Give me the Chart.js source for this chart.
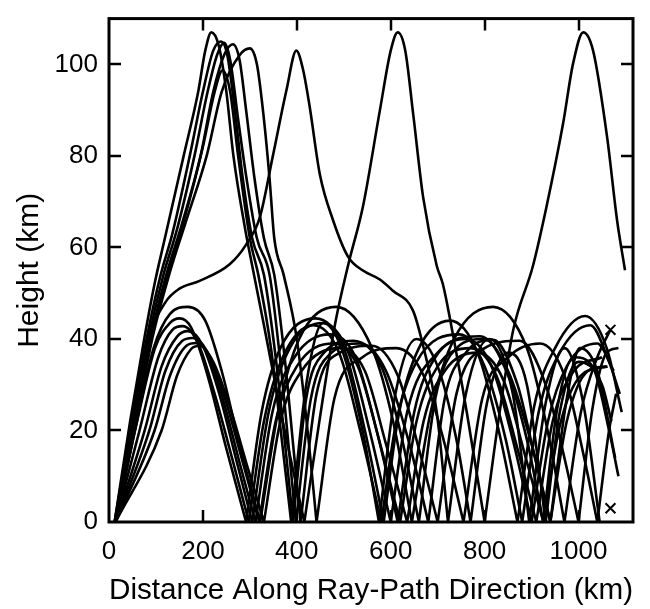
<!DOCTYPE html>
<html>
<head>
<meta charset="utf-8">
<script src="https://cdn.jsdelivr.net/npm/chart.js@4/dist/chart.umd.min.js"></script>
<style>
  html, body { margin: 0; padding: 0; background: #fff; }
  #wrap { width: 650px; height: 609px; }
</style>
</head>
<body>
<div id="wrap"><canvas id="rays" width="650" height="609"></canvas></div>
<script>
// axis ticks
const xTicks = [0, 200, 400, 600, 800, 1000];
const yTicks = [0, 20, 40, 60, 80, 100];

// ray paths as [distance km, height km]; a height of 0 inside a path is a ground bounce
const rayLong = [[12,0],[45,22],[75,40],[97,52],[119,62],[159,80],[190,94],[205,103],[218,107],[234,104],[250,94],[265,80],[290,64],[305,56],[330,43],[370,22],[416,0],[448,22],[481,43],[509,56],[541,69],[577,90],[600,103],[615,107],[631,103],[648,89],[669,71],[698,56],[711,52],[727,44],[762,24],[800,0],[832,24],[861,42],[903,56],[932,69],[967,87],[988,100],[1010,107],[1031,103],[1061,84],[1082,66],[1099,55]];
const rayFlat = [[14,0],[50,22],[85,40],[120,48],[150,51],[193,52.7],[257,56.3],[292,60.6],[321,66.5],[349,80],[378,94.4],[399,103],[413,99],[427,91],[449,76],[477,66],[509,58],[540,55],[577,53],[604,50.6],[647,46.3],[669,38.5],[698,24],[722,0],[760,28],[810,40],[860,28],[895,0],[930,26],[970,38],[1010,26],[1045,0]];
const rayH2 = [[12,0],[48,22],[80,40],[110,54],[135,63],[172,80],[200,94],[222,103],[239,105],[252,102],[268,90],[285,75],[305,62],[330,54],[355,36],[375,17],[392,0],[420,27],[458,37],[520,39.6],[580,34],[620,20],[660,0],[695,27],[740,38],[800,40],[850,32],[890,18],[925,0],[955,25],[990,36],[1030,34],[1065,20],[1085,10]];
const rayH3 = [[12,0],[52,22],[84,40],[116,54],[145,64],[182,80],[210,94],[230,102],[245,104.7],[258,101],[275,88],[293,75],[315,62],[342,54],[366,34],[384,15],[398,0],[430,27],[474,37],[535,39],[590,33],[640,17],[680,0],[715,27],[760,37],[818,39.8],[870,30],[905,15],[940,0],[975,27],[1003,38],[1040,33],[1078,14]];
const rayH4 = [[13,0],[55,22],[88,40],[122,54],[155,65],[195,80],[222,94],[245,102],[264,104.4],[278,101],[292,90],[310,75],[330,62],[352,54],[374,36],[393,16],[408,0],[442,28],[492,37],[560,38.5],[615,32],[660,16],[700,0],[740,28],[800,38],[875,39.6],[930,30],[970,14],[1000,0],[1030,25],[1060,37],[1085,38]];
const rayH5 = [[14,0],[58,22],[92,40],[128,54],[165,66],[208,80],[240,94],[278,102],[300,103.5],[315,100],[330,88],[342,75],[352,62],[372,54],[400,40],[425,18],[442,0],[480,27],[540,36],[612,38],[670,32],[715,17],[755,0],[795,27],[850,36],[918,39],[970,32],[1010,15],[1040,0],[1065,20],[1080,28]];
const rayH6 = [[13,0],[56,22],[90,40],[125,54],[160,66],[200,82],[225,94],[242,98.7],[258,94],[275,80],[300,62],[318,54],[345,38],[368,18],[388,0],[420,30],[456,43.5],[495,38],[540,20],[575,0],[610,28],[655,40],[700,34],[740,18],[770,0],[805,26],[850,37],[890,30],[930,0],[960,24],[1000,35],[1050,30],[1070,22]];
const rayD1 = [[14,0],[55,20],[95,38],[130,45.5],[168,47],[205,44],[240,33],[280,16],[322,0],[360,24],[405,40],[484,47],[560,38],[605,22],[645,0],[685,24],[735,40],[818,47],[890,38],[930,22],[970,0],[1005,24],[1040,36],[1068,42]];
const rayD2 = [[14,0],[60,22],[98,38],[130,43.5],[150,44.5],[175,42.5],[210,32],[250,16],[292,0],[325,24],[365,38],[440,44.5],[500,38],[545,20],[585,0],[618,24],[660,38],[726,44],[785,37],[830,20],[870,0],[905,25],[950,38],[1014,45],[1060,38],[1092,24]];
const rayD3 = [[14,0],[65,20],[105,36],[135,42],[157,42.8],[190,39],[225,28],[262,14],[298,0],[330,22],[370,36],[435,43],[490,37],[535,20],[580,0],[612,22],[655,35],[747,41],[800,34],[845,18],[880,0],[915,24],[960,37],[1025,43],[1065,35],[1088,28]];
const rayD4 = [[14,0],[76,20],[112,34],[145,40.5],[168,41.7],[200,38.5],[235,28],[270,14],[305,0],[340,24],[385,38],[456,43.5],[510,37],[555,20],[600,0],[635,24],[700,37],[790,40.6],[850,33],[900,17],[940,0],[975,22],[1020,33],[1060,34]];
const rayD5 = [[14,0],[86,20],[120,33],[155,39.5],[178,40.2],[210,37],[245,26],[278,13],[312,0],[348,24],[395,36],[470,41],[525,36],[570,20],[615,0],[650,24],[695,36],[760,40],[815,34],[860,18],[900,0],[935,22],[975,34],[1040,39],[1075,33]];
const rayD6 = [[14,0],[97,20],[130,32],[165,38.5],[186,39.1],[215,36],[250,26],[285,13],[320,0],[355,22],[400,34],[478,39],[530,34],[575,18],[620,0],[655,22],[700,34],[770,38],[825,32],[870,16],[910,0],[945,22],[990,33],[1050,36]];
const rayD7 = [[14,0],[112,20],[145,32],[175,37.8],[193,38.5],[222,35],[258,25],[295,12],[330,0],[365,22],[410,33],[490,38],[545,33],[590,17],[635,0],[670,22],[715,33],[785,37],[840,31],[885,15],[925,0],[960,21],[1005,32],[1062,34]];
const rayEnds = [[1068,42],[1068,3]];

const rays = [rayLong, rayFlat, rayH2, rayH3, rayH4, rayH5, rayH6,
              rayD1, rayD2, rayD3, rayD4, rayD5, rayD6, rayD7];

// split each path at its ground bounces so every reflection stays a sharp corner
function toPoints(path) {
  const out = [];
  path.forEach((p, i) => {
    out.push({x: p[0], y: p[1]});
    if (p[1] === 0 && i > 0 && i < path.length - 1) {
      out.push({x: p[0], y: null});
      out.push({x: p[0], y: 0});
    }
  });
  return out;
}

const datasets = rays.map(r => ({
  data: toPoints(r),
  borderColor: '#000',
  borderWidth: 2.6,
  pointRadius: 0,
  cubicInterpolationMode: 'monotone',
  spanGaps: false,
  fill: false
}));
datasets.push({
  data: rayEnds.map(p => ({x: p[0], y: p[1]})),
  showLine: false,
  pointStyle: 'crossRot',
  pointRadius: 7,
  borderColor: '#000',
  borderWidth: 2
});

// frame with inward ticks on all four sides
const frameTicks = {
  id: 'frameTicks',
  afterDatasetsDraw(chart) {
    const {ctx, chartArea: a, scales: {x, y}} = chart;
    const len = 12;
    ctx.save();
    ctx.strokeStyle = '#000';
    ctx.lineWidth = 2.5;
    ctx.beginPath();
    xTicks.slice(1).forEach(v => {
      const px = Math.round(x.getPixelForValue(v));
      ctx.moveTo(px, a.top); ctx.lineTo(px, a.top + len);
      ctx.moveTo(px, a.bottom); ctx.lineTo(px, a.bottom - len);
    });
    yTicks.slice(1).forEach(v => {
      const py = Math.round(y.getPixelForValue(v));
      ctx.moveTo(a.left, py); ctx.lineTo(a.left + len, py);
      ctx.moveTo(a.right, py); ctx.lineTo(a.right - len, py);
    });
    ctx.stroke();
    ctx.lineWidth = 3;
    ctx.strokeRect(a.left, a.top, a.right - a.left, a.bottom - a.top);
    ctx.restore();
  }
};

const font = 'Liberation Sans, Arial, Helvetica, sans-serif';

new Chart(document.getElementById('rays'), {
  type: 'line',
  data: { datasets },
  options: {
    responsive: false,
    animation: false,
    layout: { padding: { top: 9, right: 17, left: 0, bottom: 0 } },
    plugins: { legend: { display: false }, tooltip: { enabled: false } },
    scales: {
      x: {
        type: 'linear',
        min: 0, max: 1116,
        afterBuildTicks: s => { s.ticks = xTicks.map(v => ({value: v})); },
        afterFit: s => { s.height = 87; },
        grid: { display: false },
        border: { display: false },
        ticks: { color: '#000', font: { family: font, size: 26 }, padding: 6, maxRotation: 0,
                 callback: v => String(v) },
        title: { display: true, text: 'Distance Along Ray-Path Direction (km)', color: '#000',
                 font: { family: font, size: 30 }, padding: { top: 0, bottom: 0 } }
      },
      y: {
        type: 'linear',
        min: 0, max: 110,
        afterBuildTicks: s => { s.ticks = yTicks.map(v => ({value: v})); },
        afterFit: s => { s.width = 109; },
        grid: { display: false },
        border: { display: false },
        ticks: { color: '#000', font: { family: font, size: 26 }, padding: 3,
                 callback: v => String(v) },
        title: { display: true, text: 'Height (km)', color: '#000',
                 font: { family: font, size: 30 }, padding: { top: 12, bottom: 0 } }
      }
    }
  },
  plugins: [frameTicks]
});
</script>
</body>
</html>
